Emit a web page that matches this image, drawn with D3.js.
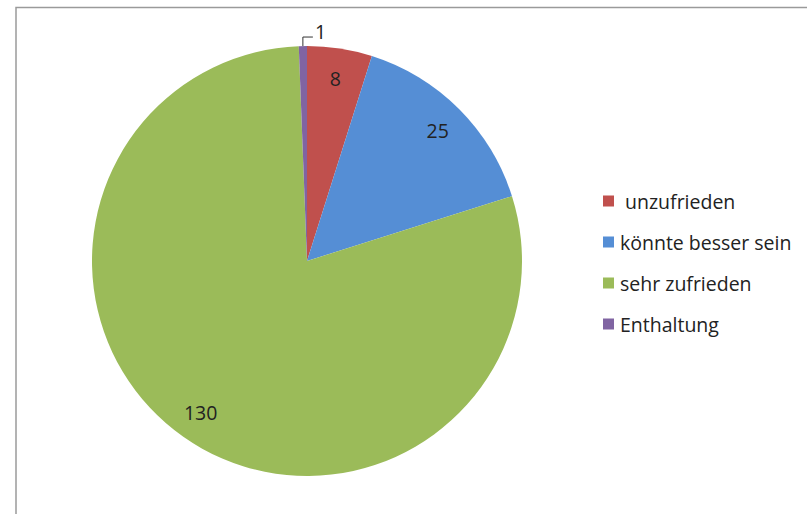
<!DOCTYPE html>
<html><head><meta charset="utf-8">
<script src="https://cdn.jsdelivr.net/npm/d3@7"></script>
<style>html,body{margin:0;padding:0;background:#fff;}svg{display:block;}</style>
</head><body>
<svg id="c" width="807" height="514"></svg>
<script>
const categories = [" unzufrieden", "könnte besser sein", "sehr zufrieden", "Enthaltung"];
const values = [8, 25, 130, 1];
const colors = ["#C0504D", "#558ED5", "#9BBB59", "#8064A2"];

const svg = d3.select("#c");
const font = "'Open Sans', 'Noto Sans', sans-serif";

// frame
svg.append("path").attr("d", "M16,514 V7.5 H807").attr("fill", "none")
  .attr("stroke", "#9a9a9a").attr("stroke-width", 1.5);

const cx = 307, cy = 261, r = 215;
const g = svg.append("g").attr("transform", `translate(${cx},${cy})`);
const pie = d3.pie().sort(null).value(d => d)(values);
const arc = d3.arc().innerRadius(0).outerRadius(r);
g.selectAll("path.s").data(pie).join("path").attr("class", "s")
  .attr("d", arc).attr("fill", (d, i) => colors[i]);

// labels
const lab = g.append("g").attr("font-family", font).attr("font-size", 19.5).attr("fill", "#222");
pie.forEach((d, i) => {
  if (i === 3) return;
  const rr = r * 0.86;
  const a = (d.startAngle + d.endAngle) / 2;
  lab.append("text").attr("x", rr * Math.sin(a)).attr("y", -rr * Math.cos(a))
    .attr("text-anchor", "middle").attr("dominant-baseline", "central").text(values[i]);
});
// small slice label with leader
{
  const d = pie[3];
  const a = (d.startAngle + d.endAngle) / 2;
  const x0 = r * Math.sin(a), y0 = -r * Math.cos(a);
  g.append("path").attr("d", `M${x0},${y0} V${y0 - 9} H${x0 + 10}`)
    .attr("fill", "none").attr("stroke", "#333").attr("stroke-width", 1);
  lab.append("text").attr("x", x0 + 12).attr("y", y0 - 15)
    .attr("dominant-baseline", "central").text(values[3]);
}

// legend
const leg = svg.append("g").attr("font-family", font).attr("font-size", 19.5).attr("fill", "#222");
categories.forEach((c, i) => {
  const y = 201 + i * 41;
  leg.append("rect").attr("x", 603).attr("y", y - 5.5).attr("width", 11).attr("height", 11).attr("fill", colors[i]);
  leg.append("text").attr("x", 620).attr("y", y).attr("dominant-baseline", "central")
    .attr("xml:space", "preserve").style("white-space", "pre").text(c);
});
</script>
</body></html>
